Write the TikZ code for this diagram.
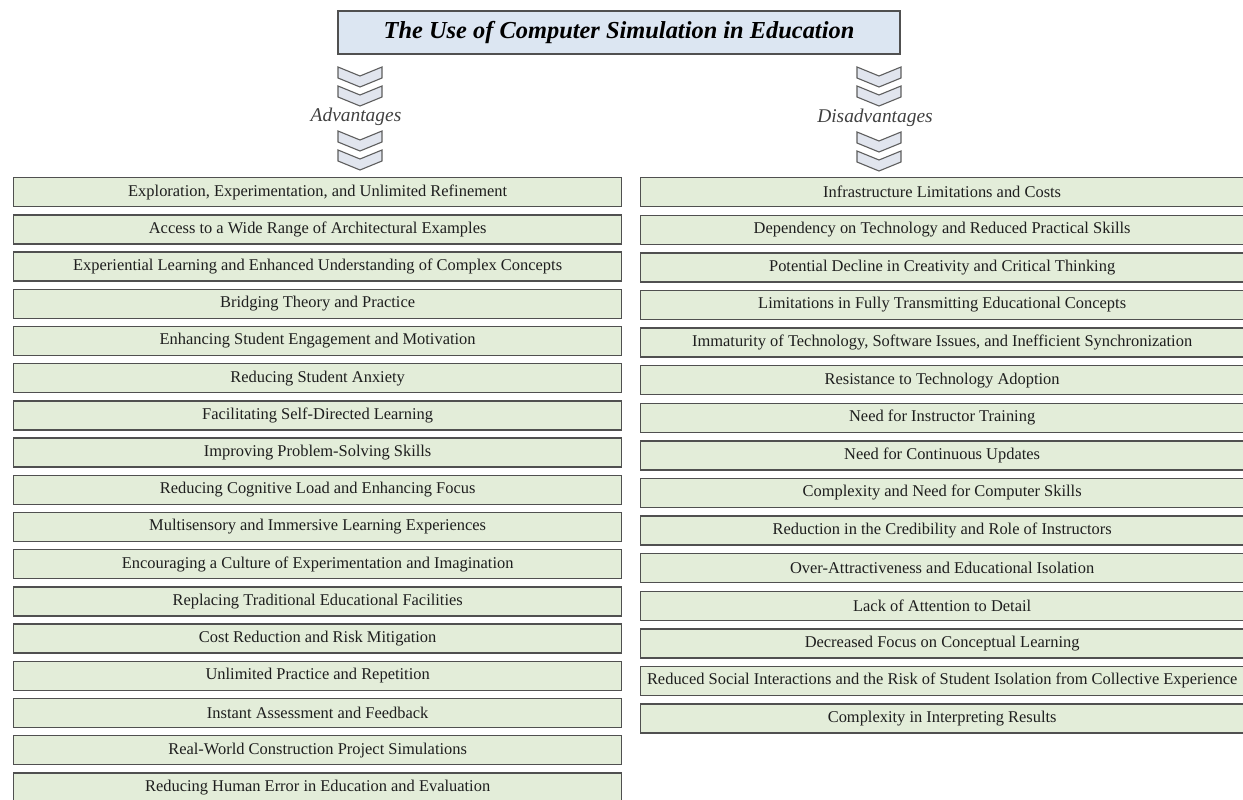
\documentclass[tikz,border=0pt]{standalone}
\usepackage{fontspec}
\setmainfont{Liberation Serif}
\definecolor{boxfill}{HTML}{E3EDD9}
\definecolor{boxline}{HTML}{505050}
\definecolor{titlefill}{HTML}{DCE6F2}
\definecolor{chevfill}{HTML}{E1E5EE}
\definecolor{chevline}{HTML}{5E5E5E}
\definecolor{txt}{HTML}{1E1E1E}
\tikzset{
  itembox/.style={draw=boxline, line width=1.3bp, fill=boxfill, anchor=north west,
    minimum height=29bp, inner sep=0pt, text=txt, font=\fontsize{16.5}{18}\selectfont},
  leftbox/.style={itembox, minimum width=608bp},
  rightbox/.style={itembox, minimum width=603bp},
  titlebox/.style={draw=boxline, line width=1.3bp, fill=titlefill, minimum width=562bp,
    minimum height=43bp, inner sep=0pt, text=black, font=\fontsize{24.5}{27}\selectfont\bfseries\itshape},
  headlabel/.style={text=txt!85, font=\fontsize{19.5}{21}\selectfont\itshape, inner sep=0pt},
  chevstyle/.style={draw=chevline, fill=chevfill, line width=1.1bp, line join=miter},
  chev/.pic={\path[chevstyle] (-22,0) -- (0,9) -- (22,0) -- (22,11) -- (0,20) -- (-22,11) -- cycle;}
}
\begin{document}
\begin{tikzpicture}[x=1bp,y=-1bp]
\useasboundingbox (0,0) rectangle (1243,800);
\node[titlebox] (title) at (619,32.5) {The Use of Computer Simulation in Education};
% left chevrons and label
\pic at (360,67) {chev};
\pic at (360,86) {chev};
\node[headlabel] (adv) at (356,117) {Advantages};
\pic at (360,131) {chev};
\pic at (360,150) {chev};
% right chevrons and label
\pic at (879,67) {chev};
\pic at (879,86) {chev};
\node[headlabel] (dis) at (875,118) {Disadvantages};
\pic at (879,132) {chev};
\pic at (879,151) {chev};
% advantages
\foreach \t [count=\i from 0] in {
  {Exploration, Experimentation, and Unlimited Refinement},
  {Access to a Wide Range of Architectural Examples},
  {Experiential Learning and Enhanced Understanding of Complex Concepts},
  {Bridging Theory and Practice},
  {Enhancing Student Engagement and Motivation},
  {Reducing Student Anxiety},
  {Facilitating Self-Directed Learning},
  {Improving Problem-Solving Skills},
  {Reducing Cognitive Load and Enhancing Focus},
  {Multisensory and Immersive Learning Experiences},
  {Encouraging a Culture of Experimentation and Imagination},
  {Replacing Traditional Educational Facilities},
  {Cost Reduction and Risk Mitigation},
  {Unlimited Practice and Repetition},
  {Instant Assessment and Feedback},
  {Real-World Construction Project Simulations},
  {Reducing Human Error in Education and Evaluation}}
  \node[leftbox] (L\i) at (13,{177+37.2*\i}) {\t};
% disadvantages
\foreach \t [count=\i from 0] in {
  {Infrastructure Limitations and Costs},
  {Dependency on Technology and Reduced Practical Skills},
  {Potential Decline in Creativity and Critical Thinking},
  {Limitations in Fully Transmitting Educational Concepts},
  {Immaturity of Technology, Software Issues, and Inefficient Synchronization},
  {Resistance to Technology Adoption},
  {Need for Instructor Training},
  {Need for Continuous Updates},
  {Complexity and Need for Computer Skills},
  {Reduction in the Credibility and Role of Instructors},
  {Over-Attractiveness and Educational Isolation},
  {Lack of Attention to Detail},
  {Decreased Focus on Conceptual Learning},
  {Reduced Social Interactions and the Risk of Student Isolation from Collective Experience},
  {Complexity in Interpreting Results}}
  \node[rightbox] (R\i) at (640,{177+37.6*\i}) {\t};
\end{tikzpicture}
\end{document}
